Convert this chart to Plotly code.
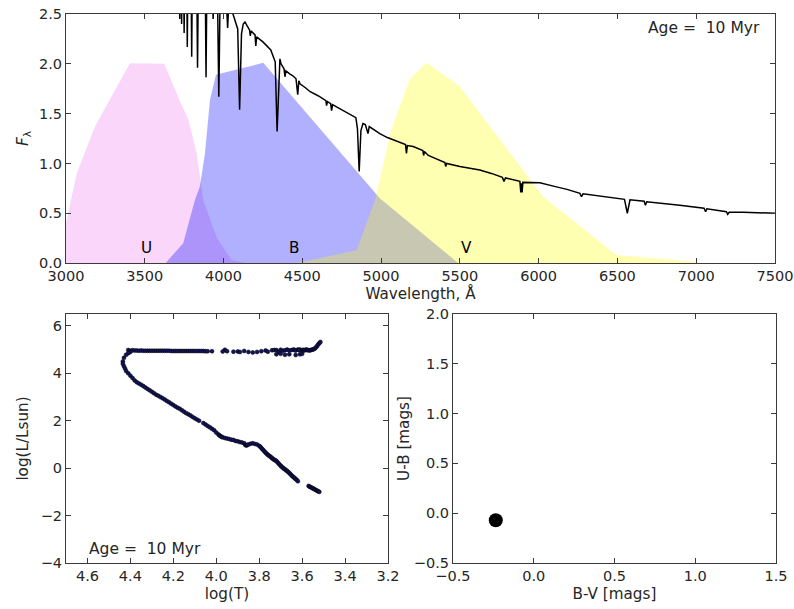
import plotly.graph_objects as go

# ---------------- data ----------------
# Filter transmission curves (scaled)
U_wl = [3000, 3000, 3068, 3184, 3406, 3624, 3730, 3775, 3830, 3871, 3956, 4051, 4146]
U_resp = [0.0, 0.40, 0.90, 1.37, 2.005, 2.0, 1.60, 1.45, 1.10, 0.63, 0.26, 0.03, 0.0]

B_wl = [3632, 3744, 3818, 3850, 3882, 3914, 3952, 4252, 4992, 5490]
B_resp = [0.0, 0.20, 0.63, 0.77, 1.10, 1.64, 1.89, 2.01, 0.65, 0.0]

V_wl = [4463, 4845, 4961, 5067, 5183, 5289, 5496, 6029, 6494, 7001, 7010]
V_resp = [0.0, 0.13, 0.63, 1.35, 1.85, 2.01, 1.78, 0.665, 0.08, 0.01, 0.0]

filter_names = ["U", "B", "V"]
filter_label_x = [3510, 4450, 5540]
filter_label_y = [0.15, 0.15, 0.15]

# Spectrum (F_lambda), including absorption lines
spec_wl = [3650, 3718, 3722, 3726, 3730, 3734, 3738, 3746, 3750, 3754,
           3766, 3770, 3774, 3794, 3798, 3802, 3830, 3835, 3840, 3884,
           3889, 3894, 3930, 3934, 3938, 3962, 3970, 3978, 4020, 4026,
           4032, 4060, 4090, 4102, 4114, 4125, 4136, 4150, 4165, 4170,
           4175, 4200, 4205, 4210, 4250, 4300, 4328, 4340, 4352, 4358,
           4365, 4384, 4390, 4396, 4420, 4440, 4460, 4471, 4478, 4485,
           4520, 4550, 4600, 4650, 4654, 4660, 4680, 4686, 4692, 4750,
           4802, 4840, 4850, 4861, 4872, 4885, 4900, 4917, 4925, 4960,
           4992, 5040, 5077, 5155, 5161, 5167, 5204, 5265, 5270, 5275,
           5300, 5405, 5410, 5416, 5500, 5560, 5627, 5700, 5770, 5780,
           5790, 5881, 5887, 5891, 5895, 5900, 6008, 6100, 6180, 6262,
           6272, 6282, 6400, 6545, 6563, 6580, 6670, 6678, 6686, 6800,
           6896, 7050, 7060, 7068, 7192, 7200, 7210, 7300, 7400, 7500]
spec_flux = [3.20, 3.05, 2.45, 3.05, 3.03, 2.40, 3.02, 3.00, 2.31, 2.99,
             2.97, 2.17, 2.96, 2.93, 2.07, 2.92, 2.88, 1.96, 2.87, 2.80,
             1.865, 2.78, 2.72, 2.45, 2.71, 2.66, 1.67, 2.64, 2.57, 2.36,
             2.56, 2.50, 2.35, 1.54, 2.30, 2.40, 2.42, 2.38, 2.34, 2.28,
             2.33, 2.29, 2.18, 2.27, 2.22, 2.14, 2.02, 1.32, 1.98, 2.05,
             2.00, 1.95, 1.87, 1.93, 1.90, 1.88, 1.85, 1.69, 1.83, 1.80,
             1.76, 1.72, 1.68, 1.63, 1.58, 1.62, 1.60, 1.53, 1.59, 1.54,
             1.50, 1.46, 1.35, 0.92, 1.33, 1.40, 1.39, 1.30, 1.37, 1.33,
             1.30, 1.26, 1.235, 1.19, 1.10, 1.18, 1.17, 1.13, 1.08, 1.12,
             1.08, 1.01, 0.97, 1.00, 0.97, 0.95, 0.934, 0.90, 0.86, 0.82,
             0.855, 0.82, 0.71, 0.80, 0.71, 0.81, 0.806, 0.77, 0.74, 0.70,
             0.666, 0.695, 0.67, 0.64, 0.50, 0.635, 0.62, 0.58, 0.615, 0.60,
             0.58, 0.55, 0.515, 0.545, 0.515, 0.49, 0.51, 0.51, 0.505, 0.50]

# HR diagram (isochrone) points: log(T), log(L/Lsun)
hr_logT = [4.41, 4.40, 4.39, 4.38, 4.37, 4.36, 4.35, 4.34, 4.33, 4.32,
           4.31, 4.30, 4.29, 4.28, 4.27, 4.26, 4.25, 4.24, 4.23, 4.22,
           4.21, 4.20, 4.19, 4.18, 4.17, 4.16, 4.15, 4.14, 4.13, 4.12,
           4.11, 4.10, 4.09, 4.08, 4.07, 4.06, 4.05, 4.04, 4.02, 3.96,
           3.97, 3.95, 3.92, 3.90, 3.89, 3.87, 3.85, 3.83, 3.81, 3.79,
           3.77, 3.76, 3.74, 3.73, 3.72, 3.71, 3.70, 3.69, 3.68, 3.67,
           3.66, 3.65, 3.64, 3.635, 3.63, 3.62, 3.615, 3.61, 3.60, 3.595,
           3.59, 3.585, 3.58, 3.575, 3.57, 3.565, 3.56, 3.555, 3.55, 3.545,
           3.54, 3.535, 3.53, 3.525, 3.52, 3.515,
           3.72, 3.70, 3.68, 3.66, 3.63, 3.61, 3.60,
           4.40, 4.41, 4.42, 4.43, 4.435, 4.435, 4.43, 4.425, 4.42, 4.41,
           4.40, 4.39, 4.38, 4.37, 4.36, 4.35, 4.34, 4.33, 4.32, 4.31,
           4.30, 4.29, 4.28, 4.27, 4.26, 4.25, 4.24, 4.23, 4.22, 4.21,
           4.20, 4.19, 4.18, 4.17, 4.16, 4.15, 4.14, 4.13, 4.12, 4.11,
           4.10, 4.09, 4.08, 4.06, 4.05, 4.04, 4.03, 4.02, 4.01, 4.00,
           3.99, 3.985, 3.98, 3.975, 3.97, 3.96, 3.95, 3.94, 3.93, 3.92,
           3.91, 3.90, 3.89, 3.88, 3.87, 3.865, 3.86, 3.855, 3.85, 3.84,
           3.83, 3.82, 3.81, 3.80, 3.795, 3.79, 3.785, 3.78, 3.775, 3.77,
           3.765, 3.76, 3.755, 3.75, 3.745, 3.74, 3.735, 3.73, 3.725, 3.72,
           3.715, 3.71, 3.705, 3.70, 3.695, 3.69, 3.685, 3.68, 3.675, 3.67,
           3.665, 3.66, 3.655, 3.65, 3.645, 3.64, 3.635, 3.63, 3.625, 3.62,
           3.57, 3.565, 3.56, 3.555, 3.55, 3.545, 3.54, 3.535, 3.53, 3.525, 3.52]
hr_logL = [4.98, 4.95, 4.97, 4.96, 4.96, 4.95, 4.96, 4.95, 4.95, 4.95,
           4.95, 4.95, 4.95, 4.95, 4.95, 4.95, 4.95, 4.95, 4.95, 4.95,
           4.94, 4.94, 4.94, 4.94, 4.94, 4.94, 4.94, 4.94, 4.94, 4.94,
           4.94, 4.94, 4.94, 4.94, 4.94, 4.94, 4.93, 4.93, 4.93, 4.99,
           4.92, 4.93, 4.91, 4.92, 4.90, 4.94, 4.90, 4.88, 4.90, 4.93,
           4.96, 4.91, 4.97, 4.98, 4.98, 4.90, 4.99, 4.95, 4.97, 5.00,
           4.96, 4.98, 5.00, 4.98, 4.96, 5.00, 4.98, 5.00, 4.97, 4.99,
           4.96, 4.99, 5.00, 4.97, 4.98, 4.96, 4.98, 4.99, 5.00, 5.02,
           5.05, 5.10, 5.15, 5.22, 5.27, 5.32,
           4.80, 4.82, 4.78, 4.80, 4.77, 4.80, 4.82,
           4.90, 4.85, 4.78, 4.65, 4.50, 4.40, 4.30, 4.20, 4.10, 4.00,
           3.90, 3.80, 3.70, 3.62, 3.57, 3.52, 3.46, 3.40, 3.34, 3.28,
           3.22, 3.16, 3.10, 3.05, 3.00, 2.95, 2.89, 2.83, 2.78, 2.72,
           2.66, 2.60, 2.55, 2.50, 2.44, 2.38, 2.32, 2.27, 2.22, 2.16,
           2.10, 2.05, 2.00, 1.90, 1.84, 1.78, 1.72, 1.66, 1.60, 1.50,
           1.42, 1.38, 1.35, 1.32, 1.30, 1.27, 1.25, 1.23, 1.20, 1.19,
           1.15, 1.13, 1.10, 1.08, 1.05, 0.98, 0.95, 0.98, 1.00, 1.03,
           1.05, 1.02, 1.00, 0.94, 0.90, 0.85, 0.80, 0.75, 0.70, 0.65,
           0.61, 0.56, 0.53, 0.50, 0.46, 0.42, 0.39, 0.35, 0.33, 0.30,
           0.25, 0.20, 0.15, 0.10, 0.06, 0.02, -0.02, -0.05, -0.09, -0.12,
           -0.16, -0.20, -0.25, -0.30, -0.34, -0.38, -0.42, -0.46, -0.50, -0.55,
           -0.75, -0.78, -0.80, -0.83, -0.85, -0.88, -0.90, -0.93, -0.95, -0.98, -1.00]

# colour-colour point
bv = [-0.235]
ub = [-0.07]

age_text = "Age = \u00a010 Myr"

# ---------------- figure ----------------
FONT = "DejaVu Sans"
FS = 14.5
TXT = "#262626"
AX = "#3a3a3a"

fig = go.Figure()

fill_cols = ["rgba(238,130,238,0.32)", "rgba(0,0,255,0.31)", "rgba(255,255,0,0.30)"]
for wl, resp, col, name in zip([U_wl, B_wl, V_wl], [U_resp, B_resp, V_resp], fill_cols, filter_names):
    fig.add_trace(go.Scatter(x=wl, y=resp, fill="toself", fillcolor=col, mode="lines",
                             line=dict(width=0, color=col), name=name, hoverinfo="skip",
                             xaxis="x", yaxis="y"))

fig.add_trace(go.Scatter(x=spec_wl, y=spec_flux, mode="lines", line=dict(color="black", width=1.5),
                         name="spectrum", xaxis="x", yaxis="y"))

fig.add_trace(go.Scatter(x=hr_logT, y=hr_logL, mode="markers",
                         marker=dict(size=4, color="#14145a", line=dict(color="black", width=0.5)),
                         name="isochrone", xaxis="x2", yaxis="y2"))

fig.add_trace(go.Scatter(x=bv, y=ub, mode="markers",
                         marker=dict(size=14, color="black"),
                         name="colour", xaxis="x3", yaxis="y3"))

tfont = dict(family=FONT, size=FS, color=TXT)
lfont = dict(family=FONT, size=15.2, color=TXT)
afont = dict(family=FONT, size=15.5, color=TXT)
common = dict(showline=True, linecolor=AX, linewidth=1, mirror="allticks", ticks="inside",
              ticklen=5, tickcolor=AX, showgrid=False, zeroline=False,
              tickfont=tfont, automargin=False)

fig.update_layout(
    width=794, height=609,
    margin=dict(l=0, r=0, t=0, b=0),
    paper_bgcolor="white", plot_bgcolor="white",
    showlegend=False,
    font=tfont,
    xaxis=dict(domain=[0.0831, 0.976], range=[3000, 7500], tickvals=list(range(3000, 7501, 500)),
               anchor="y", title=dict(text="Wavelength, Å", standoff=0, font=lfont), **common),
    yaxis=dict(domain=[0.568, 0.977], range=[0, 2.5], tickvals=[0, 0.5, 1.0, 1.5, 2.0, 2.5],
               ticktext=["0.0", "0.5", "1.0", "1.5", "2.0", "2.5"], anchor="x",
               title=dict(text="<i>F</i><sub>λ</sub>", standoff=6, font=lfont), **common),
    xaxis2=dict(domain=[0.0831, 0.4887], range=[4.7, 3.2],
                tickvals=[4.6, 4.4, 4.2, 4.0, 3.8, 3.6, 3.4, 3.2],
                ticktext=["4.6", "4.4", "4.2", "4.0", "3.8", "3.6", "3.4", "3.2"],
                anchor="y2", title=dict(text="log(T)", standoff=4, font=lfont), **common),
    yaxis2=dict(domain=[0.0755, 0.4844], range=[-4, 6.5], tickvals=[-4, -2, 0, 2, 4, 6],
                ticktext=["\u22124", "\u22122", "0", "2", "4", "6"], anchor="x2",
                title=dict(text="log(L/Lsun)", standoff=8, font=lfont), **common),
    xaxis3=dict(domain=[0.5705, 0.9773], range=[-0.5, 1.5], tickvals=[-0.5, 0, 0.5, 1.0, 1.5],
                ticktext=["\u22120.5", "0.0", "0.5", "1.0", "1.5"],
                anchor="y3", title=dict(text="B-V [mags]", standoff=4, font=lfont), **common),
    yaxis3=dict(domain=[0.0755, 0.4844], range=[-0.5, 2.0], tickvals=[-0.5, 0, 0.5, 1.0, 1.5, 2.0],
                ticktext=["\u22120.5", "0.0", "0.5", "1.0", "1.5", "2.0"], anchor="x3",
                title=dict(text="U-B [mags]", standoff=0, font=lfont), **common),
)

for name, lx, ly in zip(filter_names, filter_label_x, filter_label_y):
    fig.add_annotation(x=lx, y=ly, xref="x", yref="y", text=name, showarrow=False,
                       font=dict(family=FONT, size=15.2, color="black"))

fig.add_annotation(x=7048, y=2.36, xref="x", yref="y", text=age_text, showarrow=False,
                   font=afont)
fig.add_annotation(x=4.6, y=-3.4, xref="x2", yref="y2", text=age_text, showarrow=False,
                   xanchor="left", font=afont)

fig.write_html("out.html", config={"displayModeBar": False},
               post_script="document.body.style.margin='0';document.body.style.overflow='hidden';")
